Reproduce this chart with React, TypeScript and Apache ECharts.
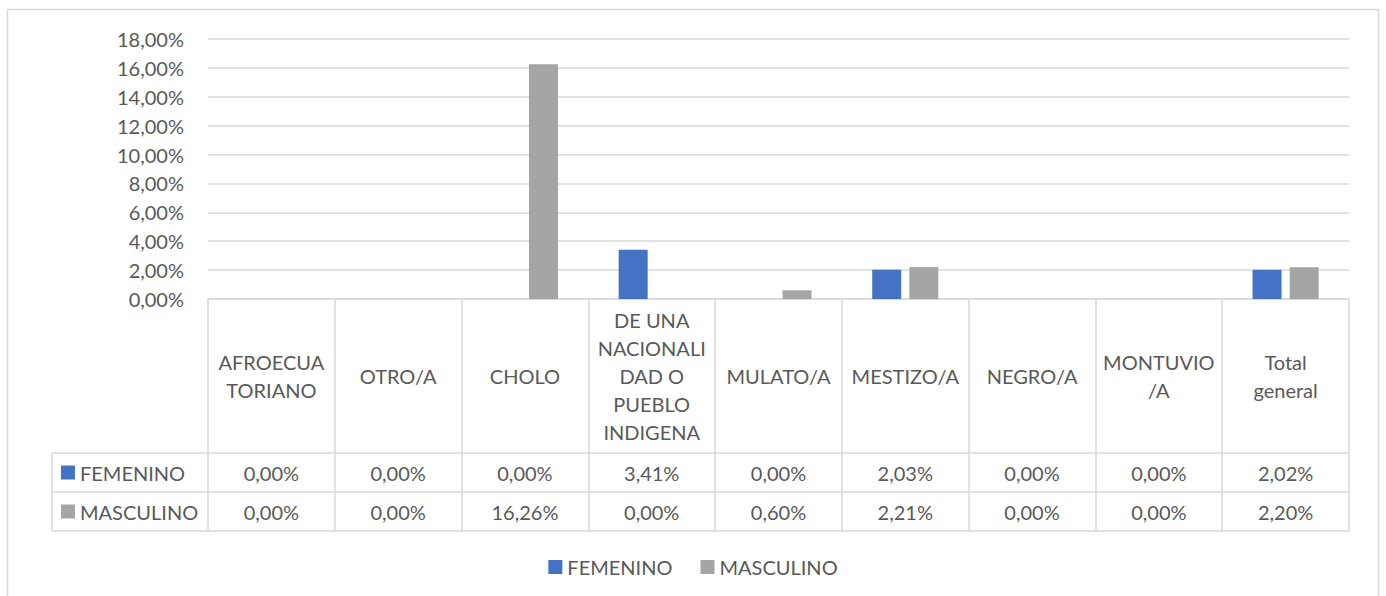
import React, { useEffect, useRef } from "react";
import * as echarts from "echarts";

const categories = [
  "AFROECUA\nTORIANO",
  "OTRO/A",
  "CHOLO",
  "DE UNA\nNACIONALI\nDAD O\nPUEBLO\nINDIGENA",
  "MULATO/A",
  "MESTIZO/A",
  "NEGRO/A",
  "MONTUVIO\n/A",
  "Total\ngeneral",
];
const femenino = [0, 0, 0, 3.41, 0, 2.03, 0, 0, 2.02];
const masculino = [0, 0, 16.26, 0, 0.6, 2.21, 0, 0, 2.2];
const seriesNames = ["FEMENINO", "MASCULINO"];
const colors = ["#4472C4", "#A5A5A5"];

const fmt = (v: number) => v.toFixed(2).replace(".", ",") + "%";

const FONT = "Lato";
const FS = 20;
const TXT = "#595959";
const LINE = "#D9D9D9";

export default function App() {
  const ref = useRef<HTMLDivElement>(null);
  useEffect(() => {
    document.body.style.margin = "0";
    const chart = echarts.init(ref.current!, null, { renderer: "svg" });
    const gridTop = 39;
    const axisY = 299;
    const row1 = 453;
    const row2 = 492;
    const row3 = 531;
    const tableLeft = 52;
    const gridLeft = 208;
    const gridRight = 1349;
    const hidden = { show: false };
    const valueAxis = (data: string[], centerY: number) => ({
      type: "category",
      gridIndex: 0,
      position: "bottom",
      data,
      axisLine: hidden,
      axisTick: hidden,
      splitLine: hidden,
      axisLabel: {
        interval: 0,
        margin: centerY - axisY,
        verticalAlign: "middle",
        color: TXT,
        fontFamily: FONT,
        fontSize: FS,
      },
    });
    chart.setOption({
      animation: false,
      backgroundColor: "#fff",
      grid: {
        left: gridLeft,
        right: 1386 - gridRight,
        top: gridTop,
        bottom: 596 - axisY,
        containLabel: false,
      },
      legend: {
        data: seriesNames,
        left: "center",
        top: 552,
        itemWidth: 14,
        itemHeight: 14,
        itemGap: 28,
        icon: "rect",
        textStyle: { color: TXT, fontFamily: FONT, fontSize: FS },
      },
      xAxis: [
        {
          type: "category",
          data: categories,
          axisLine: { show: true, lineStyle: { color: LINE, width: 1.5 } },
          axisTick: {
            show: true,
            length: row3 - axisY,
            lineStyle: { color: LINE, width: 1.5 },
          },
          axisLabel: {
            interval: 0,
            margin: (row1 - axisY) / 2,
            verticalAlign: "middle",
            lineHeight: 28,
            color: TXT,
            fontFamily: FONT,
            fontSize: FS,
          },
        },
        valueAxis(femenino.map(fmt), (row1 + row2) / 2),
        valueAxis(masculino.map(fmt), (row2 + row3) / 2),
      ],
      yAxis: {
        type: "value",
        min: 0,
        max: 18,
        interval: 2,
        axisLine: hidden,
        axisTick: hidden,
        splitLine: { lineStyle: { color: LINE, width: 1.5 } },
        axisLabel: {
          margin: 24,
          color: TXT,
          fontFamily: FONT,
          fontSize: FS,
          formatter: (v: number) => fmt(v),
        },
      },
      series: [
        {
          name: seriesNames[0],
          type: "bar",
          data: femenino,
          barWidth: 29,
          barGap: "28%",
          itemStyle: { color: colors[0] },
        },
        {
          name: seriesNames[1],
          type: "bar",
          data: masculino,
          barWidth: 29,
          barGap: "28%",
          itemStyle: { color: colors[1] },
        },
      ],
      graphic: [
        {
          type: "rect",
          shape: { x: 7.5, y: 9.5, width: 1371, height: 620 },
          style: { fill: "none", stroke: LINE, lineWidth: 1.5 },
          silent: true,
        },
        ...[row1, row2, row3].map((y) => ({
          type: "line",
          shape: { x1: tableLeft, y1: y, x2: gridRight, y2: y },
          style: { stroke: LINE, lineWidth: 1.5 },
          silent: true,
        })),
        {
          type: "line",
          shape: { x1: tableLeft, y1: row1, x2: tableLeft, y2: row3 },
          style: { stroke: LINE, lineWidth: 1.5 },
          silent: true,
        },
        ...seriesNames.flatMap((name, i) => {
          const cy = i === 0 ? (row1 + row2) / 2 : (row2 + row3) / 2;
          return [
            {
              type: "rect",
              shape: { x: 61, y: cy - 7, width: 14, height: 14 },
              style: { fill: colors[i] },
              silent: true,
            },
            {
              type: "text",
              x: 80,
              y: cy,
              style: {
                text: name,
                fill: TXT,
                font: `${FS}px ${FONT}`,
                verticalAlign: "middle",
                align: "left",
              },
              silent: true,
            },
          ];
        }),
      ],
    });
    return () => chart.dispose();
  }, []);
  return <div ref={ref} style={{ width: 1386, height: 596 }} />;
}
